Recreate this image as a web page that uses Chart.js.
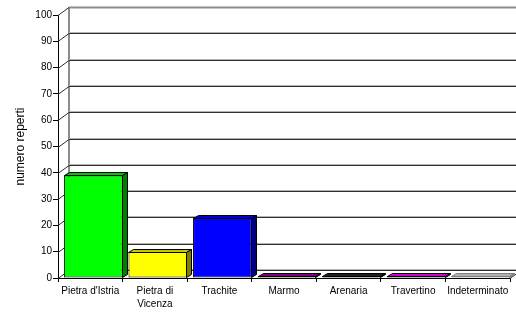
<!DOCTYPE html>
<html><head><meta charset="utf-8">
<script src="https://cdn.jsdelivr.net/npm/chart.js@4/dist/chart.umd.min.js"></script>
<style>html,body{margin:0;padding:0;background:#fff}</style>
</head><body>
<canvas id="c" width="516" height="319" style="display:block;width:516px;height:319px"></canvas>
<script>
// ---- data ----
const categories = [["Pietra d'Istria"], ["Pietra di", "Vicenza"], ["Trachite"], ["Marmo"], ["Arenaria"], ["Travertino"], ["Indeterminato"]];
const values = [39, 10, 23, 0, 0, 0, 0];
const yTickMin = 0;
const yTickMax = 100;
const yTickStep = 10;
const yTitle = "numero reperti";

// ---- styles ----
const frontColors = ['#00ff00', '#ffff00', '#0000ff', '#800080', '#000000', '#ff00ff', '#c0c0c0'];
const topColors   = ['#00c800', '#c8c800', '#0000c8', '#800080', '#202020', '#d000d0', '#b0b0b0'];
const sideColors  = ['#008000', '#808000', '#000080', '#600060', '#000000', '#900090', '#909090'];
const edgeColors  = ['#000', '#000', '#000', '#000', '#000', '#000', '#808080'];
const FONT = "'Liberation Sans', Arial, sans-serif";
const WALL_DX = 11, WALL_DY = -8;   // depth of back wall
const BAR_DX = 5, BAR_DY = -3;      // depth of each column
const BAR_SHIFT = 3;

const bar3d = {
  id: 'bar3d',
  beforeDatasetsDraw(chart) {
    const ctx = chart.ctx, y = chart.scales.y, a = chart.chartArea;
    ctx.save();
    const xb = a.left + WALL_DX;
    const W = chart.width + 20;
    ctx.strokeStyle = '#8c8c8c';
    ctx.lineWidth = 2;
    ctx.beginPath();
    ctx.moveTo(xb, y.getPixelForValue(yTickMax) + WALL_DY);
    ctx.lineTo(xb, y.getPixelForValue(yTickMin) + WALL_DY);
    ctx.stroke();
    for (let v = yTickMin; v <= yTickMax; v += yTickStep) {
      const yf = Math.round(y.getPixelForValue(v)) + 0.5;
      const yb = yf + WALL_DY;
      if (v === yTickMax) {
        ctx.strokeStyle = '#8c8c8c';
        ctx.lineWidth = 2;
        ctx.beginPath(); ctx.moveTo(xb, yb); ctx.lineTo(W, yb); ctx.stroke();
      } else {
        ctx.lineWidth = 1;
        ctx.strokeStyle = '#b4b4b4';
        ctx.beginPath(); ctx.moveTo(xb, yb - 1); ctx.lineTo(W, yb - 1); ctx.stroke();
        ctx.strokeStyle = '#303030';
        ctx.beginPath(); ctx.moveTo(xb, yb); ctx.lineTo(W, yb); ctx.stroke();
      }
      ctx.strokeStyle = '#303030';
      ctx.lineWidth = 1;
      ctx.beginPath(); ctx.moveTo(a.left, yf); ctx.lineTo(xb, yb); ctx.stroke();
    }
    const y0 = Math.round(y.getPixelForValue(yTickMin)) + 0.5;
    ctx.strokeStyle = '#303030';
    ctx.beginPath(); ctx.moveTo(a.right, y0); ctx.lineTo(a.right + WALL_DX, y0 + WALL_DY); ctx.stroke();
    ctx.restore();
    ctx.save();
    ctx.translate(BAR_SHIFT, 0);
  },
  afterDatasetsDraw(chart) {
    const ctx = chart.ctx;
    const meta = chart.getDatasetMeta(0);
    meta.data.forEach((el, i) => {
      const p = el.getProps(['x', 'y', 'base', 'width'], true);
      const l = Math.round(p.x - p.width / 2) + 0.5;
      const r = Math.round(p.x + p.width / 2) - 0.5;
      const t = Math.round(Math.min(p.y, p.base)) + 0.5;
      const b = Math.round(Math.max(p.y, p.base)) - 0.5;
      ctx.lineWidth = 1;
      ctx.strokeStyle = edgeColors[i];
      ctx.fillStyle = topColors[i];
      ctx.beginPath();
      ctx.moveTo(l, t); ctx.lineTo(l + BAR_DX, t + BAR_DY); ctx.lineTo(r + BAR_DX, t + BAR_DY); ctx.lineTo(r, t);
      ctx.closePath(); ctx.fill(); ctx.stroke();
      ctx.fillStyle = sideColors[i];
      ctx.beginPath();
      ctx.moveTo(r, t); ctx.lineTo(r + BAR_DX, t + BAR_DY); ctx.lineTo(r + BAR_DX, b + BAR_DY); ctx.lineTo(r, b);
      ctx.closePath(); ctx.fill(); ctx.stroke();
    });
    ctx.restore();
  }
};

new Chart(document.getElementById('c'), {
  type: 'bar',
  data: {
    labels: categories,
    datasets: [{
      data: values,
      backgroundColor: frontColors,
      borderColor: edgeColors,
      borderWidth: 1,
      borderSkipped: false,
      minBarLength: 2,
      barPercentage: 0.91,
      categoryPercentage: 1,
      clip: false
    }]
  },
  options: {
    responsive: false,
    animation: false,
    devicePixelRatio: 1,
    layout: { padding: { left: 0, right: 6, top: 15, bottom: 0 } },
    plugins: { legend: { display: false }, tooltip: { enabled: false } },
    scales: {
      x: {
        grid: { offset: true, drawOnChartArea: false, drawTicks: true, tickLength: 4, color: '#000' },
        border: { display: true, color: '#000', width: 1 },
        ticks: { color: '#000', font: { family: FONT, size: 10, lineHeight: 1.25 }, padding: 3, maxRotation: 0, autoSkip: false },
        afterFit(s) { s.height = 41; }
      },
      y: {
        min: yTickMin, max: yTickMax,
        grid: { drawOnChartArea: false, drawTicks: true, tickLength: 5, color: '#000' },
        border: { display: true, color: '#000', width: 1 },
        ticks: { stepSize: yTickStep, color: '#000', font: { family: FONT, size: 10 }, padding: 1 },
        title: { display: true, text: yTitle, color: '#000', font: { family: FONT, size: 12 }, padding: { top: 13, bottom: 0 } },
        afterFit(s) { s.width = 58; }
      }
    }
  },
  plugins: [bar3d]
});
</script>
</body></html>
